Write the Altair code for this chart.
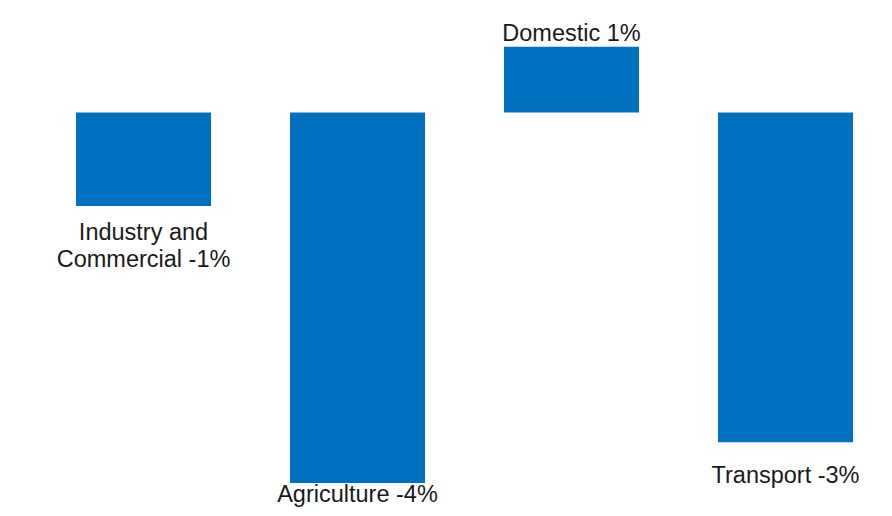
import altair as alt
import pandas as pd

categories = ["Industry and Commercial", "Agriculture", "Domestic", "Transport"]
values = [-1.01, -4.0, 0.71, -3.56]
labels = ["Industry and\nCommercial -1%", "Agriculture -4%", "Domestic 1%", "Transport -3%"]

df = pd.DataFrame({"cat": categories, "value": values, "label": labels})

xenc = alt.X("cat:N", sort=categories, axis=None,
             scale=alt.Scale(paddingInner=0.369, paddingOuter=0.2313, align=0.687))
yenc = alt.Y("value:Q", axis=None,
             scale=alt.Scale(domain=[-4.271, 1.128], nice=False, zero=True))

base = alt.Chart(df)

bars = base.mark_bar(color="#0070C0").encode(x=xenc, y=yenc)

offsets = {
    "Industry and Commercial": 34,
    "Agriculture": 19,
    "Domestic": -6,
    "Transport": 41,
}

layers = [bars]
for cat, dy in offsets.items():
    t = base.transform_filter(alt.datum.cat == cat).mark_text(
        font="Liberation Sans", fontSize=23.5, color="#1a1a1a",
        baseline="alphabetic", align="center", dy=dy,
        lineBreak="\n", lineHeight=27,
    ).encode(x=xenc, y=yenc, text="label:N")
    layers.append(t)

chart = alt.layer(*layers).properties(
    width=876, height=500, background="white",
    autosize=alt.AutoSizeParams(type="none"), padding=0,
).configure_view(stroke=None)

chart.save("out.html", embed_options={"renderer": "svg", "actions": False})
